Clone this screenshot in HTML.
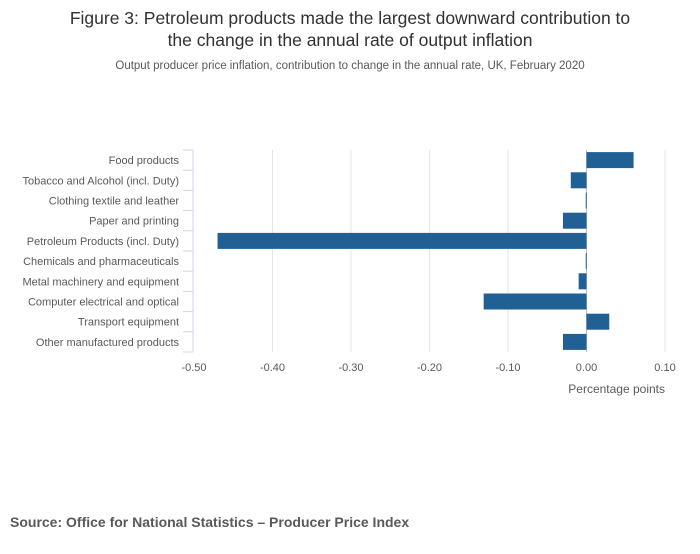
<!DOCTYPE html>
<html><head><meta charset="utf-8"><style>
body{margin:0;background:#fff;width:700px;height:549px;overflow:hidden;font-family:"Liberation Sans",sans-serif}
</style></head><body>
<svg width="700" height="549">
<text x="350" y="24" text-anchor="middle" font-size="17.5" fill="#323132">Figure 3: Petroleum products made the largest downward contribution to</text>
<text x="350" y="46" text-anchor="middle" font-size="17.5" fill="#323132">the change in the annual rate of output inflation</text>
<text x="350" y="69" text-anchor="middle" font-size="11.5" fill="#595959">Output producer price inflation, contribution to change in the annual rate, UK, February 2020</text>
<g id="grid"></g><g id="bars"></g><g id="yaxis"></g><g id="xaxis"></g>
<text x="665" y="393" text-anchor="end" font-size="12" fill="#595959">Percentage points</text>
<text x="10" y="527" font-size="14" font-weight="bold" fill="#595959">Source: Office for National Statistics – Producer Price Index</text>
</svg>
<script>
const categories=["Food products","Tobacco and Alcohol (incl. Duty)","Clothing textile and leather","Paper and printing","Petroleum Products (incl. Duty)","Chemicals and pharmaceuticals","Metal machinery and equipment","Computer electrical and optical","Transport equipment","Other manufactured products"];
const values=[0.06,-0.02,-0.001,-0.03,-0.47,-0.001,-0.01,-0.131,0.029,-0.03];
const ticks=[-0.5,-0.4,-0.3,-0.2,-0.1,0,0.1];
const tickLabels=["-0.50","-0.40","-0.30","-0.20","-0.10","0.00","0.10"];
const NS="http://www.w3.org/2000/svg";
const x0=194,x1=665,vmin=-0.5,vmax=0.1,yTop=150,band=20.2;
const xs=v=>x0+(v-vmin)/(vmax-vmin)*(x1-x0);
function mk(p,tag,a){const e=document.createElementNS(NS,tag);for(const k in a)e.setAttribute(k,a[k]);document.getElementById(p).appendChild(e);return e;}
ticks.forEach((t,i)=>{
 if(i>0){const g=mk('grid','line',{x1:xs(t),x2:xs(t),y1:yTop,y2:yTop+band*categories.length,stroke:t===0?'#bbb':'#e5e5e5','stroke-width':1});
 
 }
 const l=mk('xaxis','text',{x:xs(t),y:371,'text-anchor':'middle','font-size':11,fill:'#595959'});l.textContent=tickLabels[i];
 
 
});
const ax=mk('yaxis','line',{x1:193,x2:193,y1:yTop,y2:yTop+band*categories.length,stroke:'#ccd6eb'});


for(let i=0;i<=categories.length;i++){const tk=mk('yaxis','line',{x1:183,x2:193,y1:yTop+band*i,y2:yTop+band*i,stroke:'#ccd6eb'});
 
 }
categories.forEach((c,i)=>{
 const cy=yTop+band*i+band/2;
 const l=mk('yaxis','text',{x:179,y:cy+4,'text-anchor':'end','font-size':11,fill:'#595959'});l.textContent=c;
 
 
 const v=values[i],a=xs(Math.min(0,v)),b=xs(Math.max(0,v));
 const r=mk('bars','rect',{x:a,y:cy-8,width:Math.max(1,b-a),height:16,fill:'#206095'});
 
 
});
</script>
</body></html>
